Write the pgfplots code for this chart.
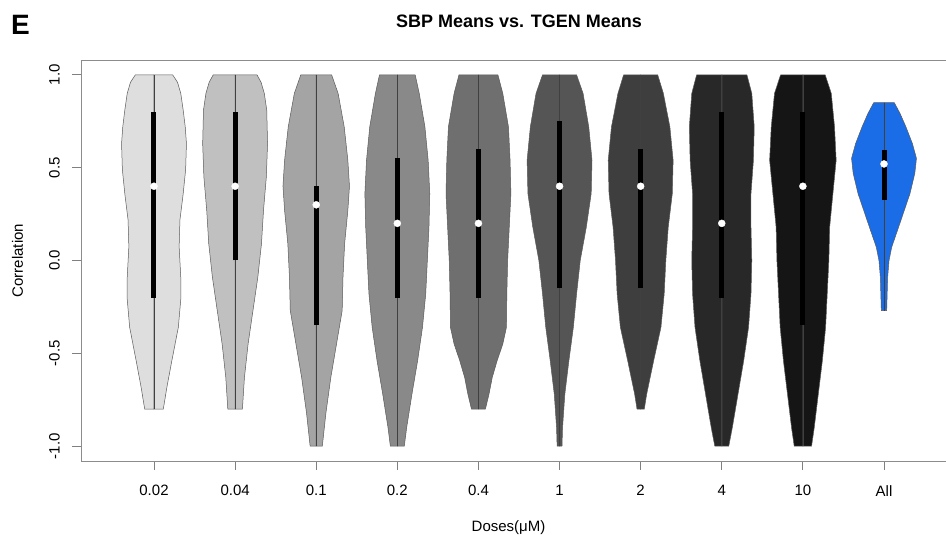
\documentclass[border=0pt]{standalone}
\usepackage{fontspec}
\setmainfont{Liberation Sans}
\usepackage{pgfplots}
\pgfplotsset{compat=1.18}
\usepackage{pgfplotstable}

\definecolor{cA}{RGB}{222,222,222}
\definecolor{cB}{RGB}{192,192,192}
\definecolor{cC}{RGB}{164,164,164}
\definecolor{cD}{RGB}{137,137,137}
\definecolor{cE}{RGB}{111,111,111}
\definecolor{cF}{RGB}{85,85,85}
\definecolor{cG}{RGB}{62,62,62}
\definecolor{cH}{RGB}{40,40,40}
\definecolor{cI}{RGB}{21,21,21}
\definecolor{cJ}{RGB}{26,109,230}
\definecolor{outl}{RGB}{90,90,90}

% violin outlines: y (correlation) and half-width w (x units)
\pgfplotstableread{
y w
-0.80 0
-0.80 0.115
-0.68 0.16
-0.54 0.22
-0.45 0.26
-0.36 0.30
-0.21 0.33
-0.09 0.33
0.075 0.31
0.22 0.32
0.36 0.36
0.49 0.39
0.63 0.40
0.72 0.385
0.81 0.36
0.90 0.33
0.96 0.29
1.00 0.23
1.00 0
}\vA
\pgfplotstableread{
y w
-0.80 0
-0.80 0.09
-0.63 0.115
-0.45 0.16
-0.27 0.22
-0.09 0.28
0.09 0.325
0.27 0.35
0.45 0.385
0.63 0.40
0.81 0.39
0.90 0.36
0.96 0.32
1.00 0.27
1.00 0
}\vB
\pgfplotstableread{
y w
-1.00 0
-1.00 0.075
-0.82 0.12
-0.63 0.18
-0.45 0.25
-0.27 0.32
-0.09 0.33
0.09 0.35
0.27 0.39
0.40 0.41
0.54 0.39
0.72 0.345
0.90 0.27
1.00 0.19
1.00 0
}\vC
\pgfplotstableread{
y w
-1.00 0
-1.00 0.086
-0.90 0.115
-0.72 0.18
-0.54 0.25
-0.36 0.31
-0.18 0.35
0.00 0.37
0.18 0.39
0.36 0.40
0.54 0.38
0.72 0.34
0.90 0.27
1.00 0.22
1.00 0
}\vD
\pgfplotstableread{
y w
-0.80 0
-0.80 0.086
-0.72 0.13
-0.63 0.17
-0.54 0.23
-0.45 0.30
-0.36 0.345
-0.18 0.35
0.00 0.36
0.18 0.38
0.36 0.40
0.54 0.39
0.72 0.37
0.90 0.30
1.00 0.24
1.00 0
}\vE
\pgfplotstableread{
y w
-1.00 0
-1.00 0.03
-0.90 0.037
-0.72 0.065
-0.54 0.115
-0.36 0.17
-0.18 0.21
0.00 0.255
0.18 0.33
0.36 0.39
0.54 0.40
0.72 0.36
0.90 0.29
1.00 0.21
1.00 0
}\vF
\pgfplotstableread{
y w
-0.80 0
-0.80 0.045
-0.72 0.074
-0.54 0.16
-0.36 0.25
-0.18 0.29
0.00 0.31
0.18 0.34
0.36 0.39
0.54 0.40
0.72 0.36
0.90 0.28
1.00 0.21
1.00 0
}\vG
\pgfplotstableread{
y w
-1.00 0
-1.00 0.086
-0.90 0.13
-0.72 0.20
-0.54 0.27
-0.36 0.33
-0.18 0.36
0.00 0.37
0.18 0.36
0.36 0.36
0.54 0.39
0.72 0.40
0.90 0.37
1.00 0.31
1.00 0
}\vH
\pgfplotstableread{
y w
-1.00 0
-1.00 0.107
-0.90 0.14
-0.72 0.19
-0.54 0.24
-0.36 0.28
-0.18 0.30
0.00 0.32
0.18 0.33
0.36 0.37
0.54 0.41
0.72 0.39
0.90 0.35
1.00 0.275
1.00 0
}\vI
\pgfplotstableread{
y w
-0.27 0
-0.27 0.033
-0.09 0.045
0.00 0.062
0.072 0.095
0.18 0.18
0.27 0.25
0.36 0.32
0.47 0.38
0.55 0.40
0.63 0.35
0.72 0.27
0.79 0.20
0.85 0.127
0.85 0
}\vJ

\newcommand{\violin}[3]{%
  \addplot[fill=#3, draw=outl, line width=0.5pt] table[x expr={#1+\thisrow{w}}, y=y] {#2} -- cycle;
  \addplot[fill=#3, draw=outl, line width=0.5pt] table[x expr={#1-\thisrow{w}}, y=y] {#2} -- cycle;
}

\begin{document}
\begin{tikzpicture}
\useasboundingbox (0pt,0pt) rectangle (946pt,535pt);
\clip (0pt,0pt) rectangle (946pt,535pt);
\node[anchor=base west, font=\fontsize{28}{32}\selectfont\bfseries, inner sep=0pt] at (11pt,500pt) {E};
\begin{axis}[
  at={(81pt,74pt)}, anchor=south west,
  width=876pt, height=401pt, scale only axis,
  xmin=0.1, xmax=10.9, ymin=-1.08, ymax=1.08,
  axis line style={draw=black!45, line width=0.8pt},
  xtick={1,2,3,4,5,6,7,8,9,10},
  xticklabels={0.02,0.04,0.1,0.2,0.4,1,2,4,10,All},
  ytick={-1,-0.5,0,0.5,1},
  yticklabels={-1.0,-0.5,0.0,0.5,1.0},
  tick align=outside, major tick length=9pt,
  tick style={draw=black!50, line width=0.8pt},
  xtick pos=lower, ytick pos=left,
  ticklabel style={font=\fontsize{15}{18}\selectfont},
  yticklabel style={rotate=90, anchor=south, inner sep=12pt},
  xticklabel style={anchor=north, inner sep=15pt},
  title={SBP Means vs. TGEN Means},
  title style={font=\fontsize{18}{22}\selectfont\bfseries, at={(axis description cs:0.5,1.067)}, anchor=base, inner sep=0pt},
  xlabel={Doses(μM)},
  xlabel style={font=\fontsize{15}{18}\selectfont, at={(axis description cs:0.488,-0.175)}, anchor=base, inner sep=0pt},
  ylabel={Correlation},
  ylabel style={font=\fontsize{15}{18}\selectfont, at={(axis description cs:-0.0725,0.5)}, anchor=center, inner sep=0pt},
]
\violin{1}{\vA}{cA}
\violin{2}{\vB}{cB}
\violin{3}{\vC}{cC}
\violin{4}{\vD}{cD}
\violin{5}{\vE}{cE}
\violin{6}{\vF}{cF}
\violin{7}{\vG}{cG}
\violin{8}{\vH}{cH}
\violin{9}{\vI}{cI}
\violin{10}{\vJ}{cJ}
% whiskers (min to max)
\addplot[black!75, line width=0.7pt] coordinates {(1,-0.8) (1,1)};
\addplot[black!75, line width=0.7pt] coordinates {(2,-0.8) (2,1)};
\addplot[black!75, line width=0.7pt] coordinates {(3,-1) (3,1)};
\addplot[black!75, line width=0.7pt] coordinates {(4,-1) (4,1)};
\addplot[black!75, line width=0.7pt] coordinates {(5,-0.8) (5,1)};
\addplot[black!75, line width=0.7pt] coordinates {(6,-1) (6,1)};
\addplot[black!75, line width=0.7pt] coordinates {(7,-0.8) (7,1)};
\addplot[black!75, line width=0.7pt] coordinates {(8,-1) (8,1)};
\addplot[black!75, line width=0.7pt] coordinates {(9,-1) (9,1)};
\addplot[black!75, line width=0.7pt] coordinates {(10,-0.27) (10,0.85)};
% boxes (Q1 to Q3)
\addplot[black, line width=5pt] coordinates {(1,-0.2) (1,0.8)};
\addplot[black, line width=5pt] coordinates {(2,0.0) (2,0.8)};
\addplot[black, line width=5pt] coordinates {(3,-0.35) (3,0.4)};
\addplot[black, line width=5pt] coordinates {(4,-0.2) (4,0.55)};
\addplot[black, line width=5pt] coordinates {(5,-0.2) (5,0.6)};
\addplot[black, line width=5pt] coordinates {(6,-0.15) (6,0.75)};
\addplot[black, line width=5pt] coordinates {(7,-0.15) (7,0.6)};
\addplot[black, line width=5pt] coordinates {(8,-0.2) (8,0.8)};
\addplot[black, line width=5pt] coordinates {(9,-0.35) (9,0.8)};
\addplot[black, line width=5pt] coordinates {(10,0.325) (10,0.595)};
% medians
\addplot[only marks, mark=*, mark size=3.5pt, mark options={fill=white, draw=white}]
  coordinates {(1,0.4) (2,0.4) (3,0.3) (4,0.2) (5,0.2) (6,0.4) (7,0.4) (8,0.2) (9,0.4) (10,0.52)};
\end{axis}
\end{tikzpicture}
\end{document}
